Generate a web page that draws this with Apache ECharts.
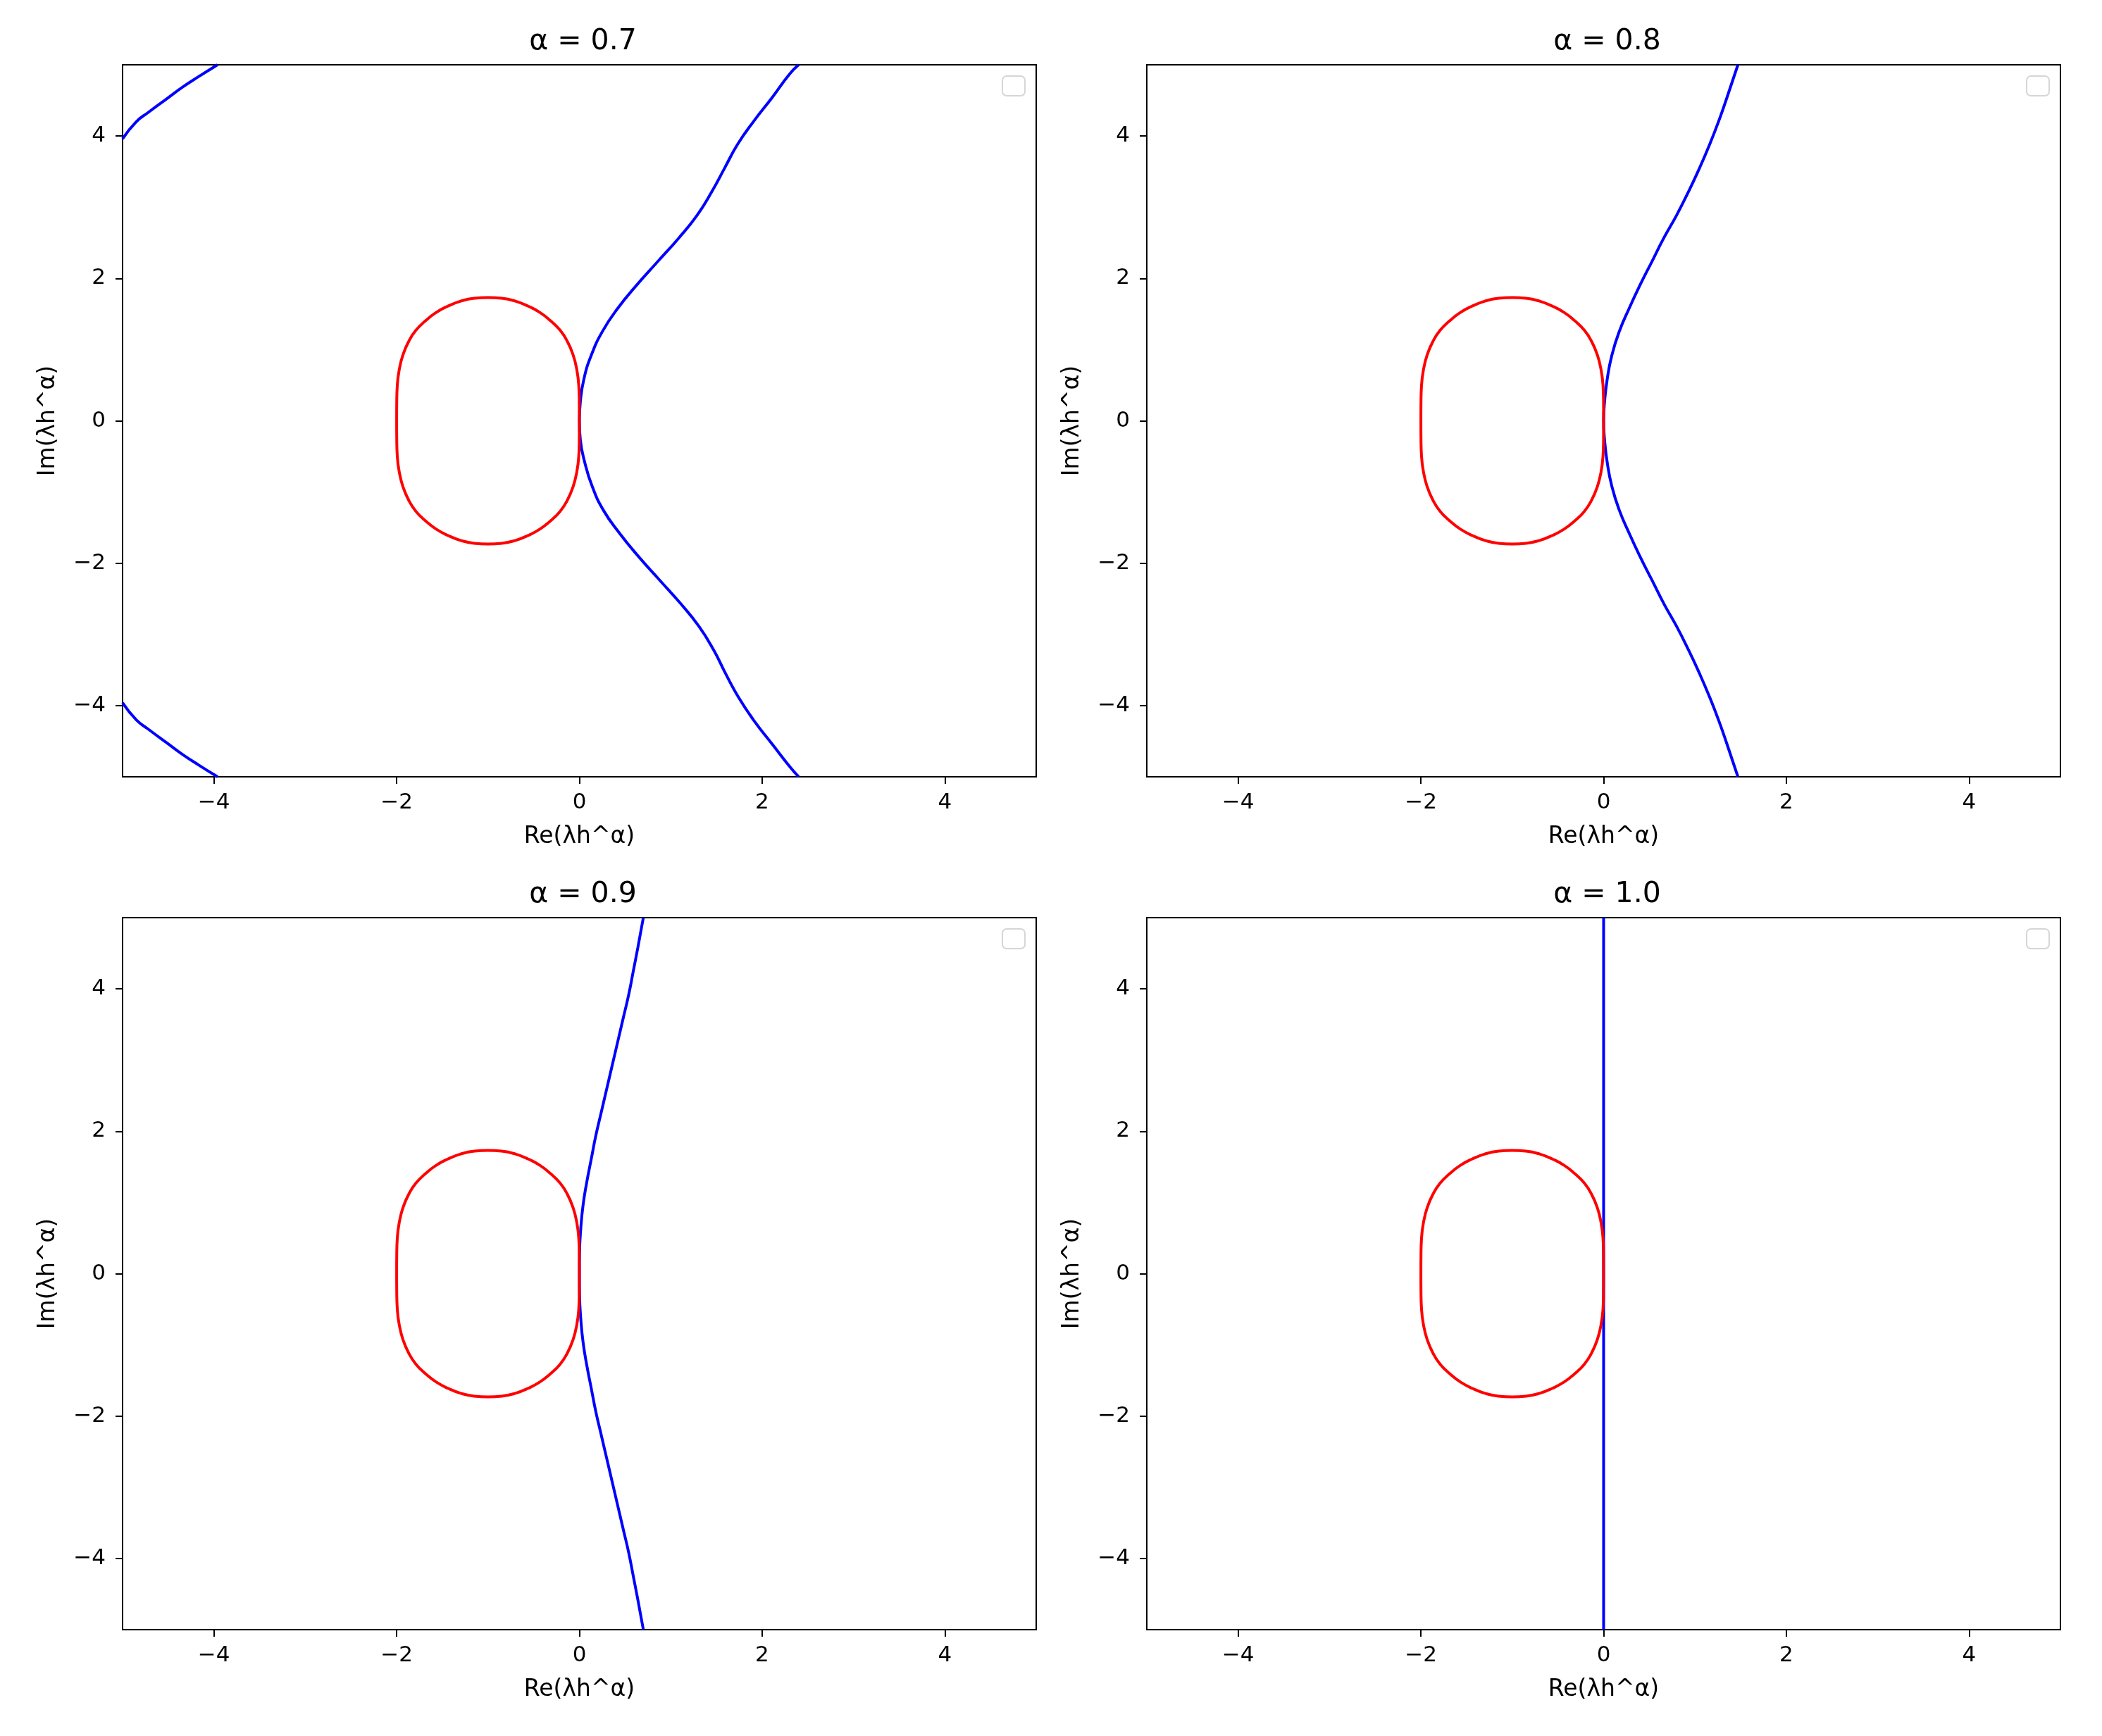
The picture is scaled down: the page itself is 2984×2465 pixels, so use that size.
<!DOCTYPE html>
<html>
<head>
<meta charset="utf-8">
<title>stability regions</title>
<script src="https://cdn.jsdelivr.net/npm/echarts@6/dist/echarts.min.js"></script>
<style>
  html, body { margin: 0; padding: 0; background: #fff; }
  #chart { width: 2984px; height: 2465px; }
</style>
</head>
<body>
<div id="chart"></div>
<script>
// tick labels + panel titles
const tickValues = [-4, -2, 0, 2, 4];
const alphaTitles = ['α = 0.7', 'α = 0.8', 'α = 0.9', 'α = 1.0'];

// red boundary (same in every panel)
const redBoundary = [
  [0, 0], [-0.001, 0.26], [-0.007, 0.50], [-0.03, 0.73], [-0.07, 0.93], [-0.13, 1.11], [-0.21, 1.27],
  [-0.32, 1.41], [-0.43, 1.52], [-0.56, 1.61], [-0.70, 1.68], [-0.85, 1.72], [-1, 1.73],
  [-1.15, 1.72], [-1.30, 1.68], [-1.44, 1.61], [-1.57, 1.52], [-1.68, 1.41], [-1.79, 1.27],
  [-1.87, 1.11], [-1.93, 0.93], [-1.97, 0.73], [-1.993, 0.50], [-1.999, 0.26], [-2, 0],
  [-1.999, -0.26], [-1.993, -0.50], [-1.97, -0.73], [-1.93, -0.93], [-1.87, -1.11], [-1.79, -1.27],
  [-1.68, -1.41], [-1.57, -1.52], [-1.44, -1.61], [-1.30, -1.68], [-1.15, -1.72], [-1, -1.73],
  [-0.85, -1.72], [-0.70, -1.68], [-0.56, -1.61], [-0.43, -1.52], [-0.32, -1.41], [-0.21, -1.27],
  [-0.13, -1.11], [-0.07, -0.93], [-0.03, -0.73], [-0.007, -0.50], [-0.001, -0.26], [0, 0]
];

// blue curves
const blue07 = [
  [2.40, -5], [2.31, -4.87], [2.11, -4.54], [1.91, -4.21], [1.74, -3.88], [1.60, -3.55], [1.47, -3.22],
  [1.31, -2.89], [1.11, -2.57], [0.88, -2.24], [0.65, -1.91], [0.44, -1.58], [0.26, -1.25], [0.14, -0.92],
  [0.06, -0.59], [0.01, -0.26], [0, 0], [0.01, 0.26], [0.05, 0.59], [0.13, 0.92], [0.25, 1.25],
  [0.42, 1.58], [0.63, 1.91], [0.86, 2.24], [1.09, 2.57], [1.29, 2.89], [1.45, 3.22], [1.59, 3.55],
  [1.73, 3.88], [1.91, 4.21], [2.11, 4.54], [2.30, 4.87], [2.40, 5]
];
const blue07CornerTop = [
  [-5, 3.96], [-4.85, 4.20], [-4.72, 4.33], [-4.52, 4.52], [-4.34, 4.69], [-4.16, 4.84], [-3.96, 5]
];
const blue07CornerBottom = [
  [-5, -3.96], [-4.85, -4.20], [-4.72, -4.33], [-4.52, -4.52], [-4.34, -4.69], [-4.16, -4.84], [-3.96, -5]
];
const blue08 = [
  [1.47, -5], [1.35, -4.54], [1.26, -4.21], [1.16, -3.88], [1.05, -3.55], [0.93, -3.22], [0.80, -2.89],
  [0.66, -2.57], [0.53, -2.24], [0.40, -1.91], [0.28, -1.58], [0.17, -1.25], [0.09, -0.92], [0.04, -0.59],
  [0.01, -0.26], [0, 0], [0.01, 0.26], [0.04, 0.59], [0.09, 0.92], [0.17, 1.25], [0.28, 1.58],
  [0.40, 1.91], [0.53, 2.24], [0.66, 2.57], [0.80, 2.89], [0.93, 3.22], [1.05, 3.55], [1.16, 3.88],
  [1.26, 4.21], [1.35, 4.54], [1.47, 5]
];
const blue09 = [
  [0.70, -5], [0.64, -4.58], [0.59, -4.25], [0.54, -3.92], [0.48, -3.59], [0.42, -3.26], [0.36, -2.93],
  [0.30, -2.60], [0.24, -2.27], [0.18, -1.94], [0.13, -1.61], [0.08, -1.28], [0.04, -0.96], [0.015, -0.63],
  [0.002, -0.30], [0, 0], [0.002, 0.30], [0.015, 0.63], [0.04, 0.96], [0.08, 1.28], [0.13, 1.61],
  [0.18, 1.94], [0.24, 2.27], [0.30, 2.60], [0.36, 2.93], [0.42, 3.26], [0.48, 3.59], [0.54, 3.92],
  [0.59, 4.25], [0.64, 4.58], [0.70, 5]
];
const blue10 = [[0, -5], [0, 5]];

const panelBlue = [[blue07, blue07CornerTop, blue07CornerBottom], [blue08], [blue09], [blue10]];

// layout
const FONT = 'DejaVu Sans';
const COL_LEFT = [174, 1628];
const ROW_TOP = [92, 1303];
const W = 1297, H = 1011;

let chart = echarts.init(document.getElementById('chart'), null, { renderer: 'canvas' });

let grids = [], xAxes = [], yAxes = [], series = [], titles = [], graphics = [];

function fmt(v) {
    return String(v).replace('-', '\u2212');
}

for (let i = 0; i < 4; i++) {
    let left = COL_LEFT[i % 2];
    let top = ROW_TOP[Math.floor(i / 2)];
    grids.push({
        left: left, top: top, width: W, height: H,
        show: true, borderColor: '#000', borderWidth: 2,
        containLabel: false, outerBoundsMode: 'none'
    });
    let axisCommon = {
        type: 'value', gridIndex: i, min: -5, max: 5,
        axisLine: { show: true, onZero: false, lineStyle: { color: '#000', width: 2 } },
        axisTick: { show: true, inside: false, length: 10, customValues: tickValues, lineStyle: { color: '#000', width: 2 } },
        splitLine: { show: false },
        nameLocation: 'middle',
        nameTextStyle: { fontFamily: FONT, fontSize: 33, color: '#000' }
    };
    xAxes.push(Object.assign({}, axisCommon, {
        position: 'bottom',
        name: 'Re(λh^α)', nameGap: 69,
        axisLabel: { customValues: tickValues, formatter: fmt, fontFamily: FONT, fontSize: 31, color: '#000', margin: 21 }
    }));
    yAxes.push(Object.assign({}, axisCommon, {
        position: 'left',
        name: 'Im(λh^α)', nameGap: 89,
        axisLabel: { customValues: tickValues, formatter: fmt, fontFamily: FONT, fontSize: 31, color: '#000', margin: 24 }
    }));
    titles.push({
        text: alphaTitles[i], left: left + W / 2, top: top - 58, textAlign: 'center',
        textStyle: { fontFamily: FONT, fontSize: 41, fontWeight: 'normal', color: '#000' }
    });
    panelBlue[i].forEach(function (d) {
        series.push({
            type: 'line', xAxisIndex: i, yAxisIndex: i, data: d,
            showSymbol: false, smooth: 0.5, clip: true,
            lineStyle: { color: '#0000ff', width: 4 }
        });
    });
    series.push({
        type: 'line', xAxisIndex: i, yAxisIndex: i, data: redBoundary,
        showSymbol: false, smooth: 0.5, clip: true,
        lineStyle: { color: '#ff0000', width: 4 }
    });
    // empty legend frame, top-right corner
    graphics.push({
        type: 'rect',
        shape: { x: left + W - 48, y: top + 16, width: 32, height: 28, r: 6 },
        style: { fill: '#fff', stroke: '#d6d6d6', lineWidth: 2 },
        z: 100
    });
}

let option = {
    backgroundColor: '#fff',
    animation: false,
    title: titles,
    grid: grids,
    xAxis: xAxes,
    yAxis: yAxes,
    series: series,
    graphic: graphics
};
chart.setOption(option);
</script>
</body>
</html>
